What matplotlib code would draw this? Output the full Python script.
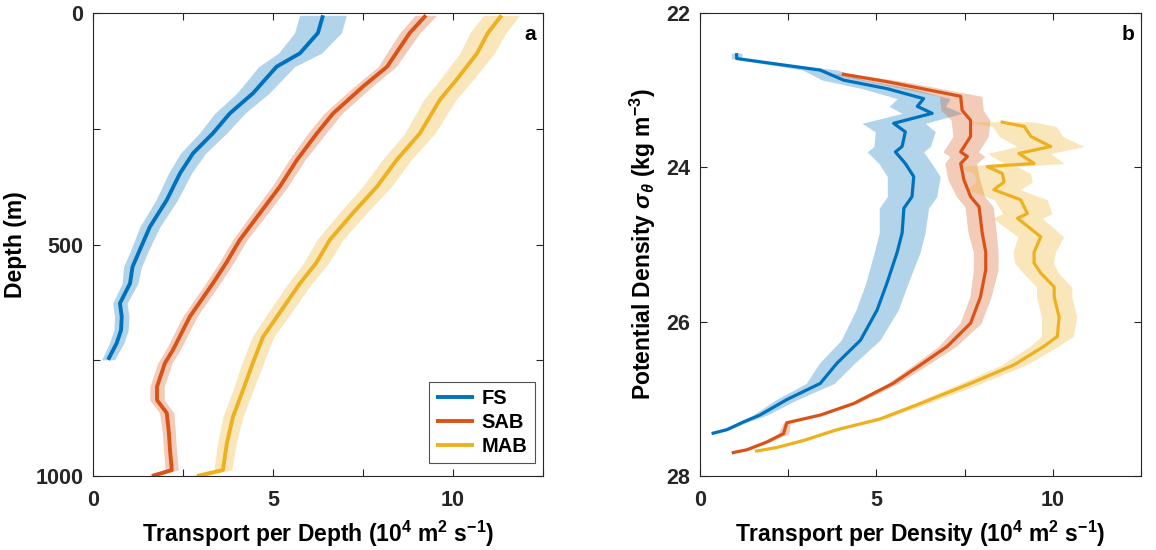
import numpy as np
import matplotlib
matplotlib.use("Agg")
import matplotlib.pyplot as plt

plt.rcParams['font.family'] = ['Liberation Sans', 'DejaVu Sans']
plt.rcParams['font.weight'] = 'bold'
plt.rcParams['mathtext.fontset'] = 'custom'
plt.rcParams['mathtext.rm'] = 'Liberation Sans:bold'
plt.rcParams['mathtext.it'] = 'Liberation Sans:bold:italic'

# MATLAB default colours
c_fs, c_sab, c_mab = '#0072BD', '#D95319', '#EDB120'

# ---- panel a: transport per depth ----
fs_depth = [5, 43, 87, 116, 173, 217, 260, 303, 346, 404, 462, 512, 548, 584, 627, 656, 685, 713, 749]
fs_tpd = [6.39, 6.25, 5.75, 5.1, 4.45, 3.8, 3.33, 2.78, 2.42, 2.05, 1.58, 1.3, 1.1, 1.03, 0.75, 0.8, 0.78, 0.66, 0.42]
fs_tpd_err = [0.65, 0.65, 0.6, 0.5, 0.45, 0.42, 0.38, 0.35, 0.32, 0.3, 0.28, 0.25, 0.25, 0.22, 0.2, 0.2, 0.2, 0.2, 0.18]

sab_depth = [5, 43, 116, 159, 217, 260, 317, 375, 432, 490, 540, 584, 656, 728, 756, 807, 836, 864, 907, 944, 987, 1000]
sab_tpd = [9.25, 8.8, 8.17, 7.5, 6.67, 6.22, 5.67, 5.19, 4.64, 4.08, 3.7, 3.33, 2.69, 2.22, 2.0, 1.78, 1.78, 2.05, 2.11, 2.14, 2.19, 1.64]
sab_tpd_err = [0.3, 0.28, 0.25, 0.25, 0.25, 0.25, 0.22, 0.22, 0.22, 0.2, 0.2, 0.2, 0.2, 0.2, 0.2, 0.2, 0.2, 0.2, 0.18, 0.18, 0.18, 0.15]

mab_depth = [5, 43, 87, 144, 187, 260, 317, 375, 432, 490, 540, 584, 656, 700, 756, 814, 872, 929, 987, 1000]
mab_tpd = [11.35, 10.97, 10.67, 10.1, 9.64, 9.08, 8.44, 7.89, 7.22, 6.58, 6.2, 5.75, 5.11, 4.72, 4.44, 4.17, 3.89, 3.72, 3.61, 2.89]
mab_tpd_err = [0.5, 0.5, 0.48, 0.46, 0.45, 0.42, 0.4, 0.4, 0.38, 0.36, 0.35, 0.33, 0.32, 0.3, 0.3, 0.28, 0.28, 0.26, 0.25, 0.2]

# ---- panel b: transport per density ----
fs_sig = [22.52, 22.59, 22.74, 22.87, 22.98, 23.11, 23.21, 23.30, 23.43, 23.54, 23.73, 23.80, 23.95, 24.12,
          24.38, 24.53, 24.85, 25.10, 25.50, 25.85, 26.24, 26.54, 26.80, 27.01, 27.21, 27.30, 27.40, 27.45]
fs_tps = [1.04, 1.04, 3.41, 4.07, 5.30, 6.34, 6.16, 6.58, 5.49, 5.82, 5.73, 5.54, 5.82, 6.06,
          6.01, 5.78, 5.73, 5.59, 5.30, 5.02, 4.55, 3.88, 3.41, 2.46, 1.70, 1.23, 0.76, 0.33]
fs_tps_err = [0.15, 0.15, 0.5, 0.6, 0.7, 0.75, 0.8, 0.85, 0.9, 0.85, 0.8, 0.8, 0.75, 0.75,
              0.7, 0.7, 0.65, 0.65, 0.6, 0.6, 0.55, 0.5, 0.4, 0.3, 0.2, 0.12, 0.08, 0.05]

sab_sig = [22.79, 22.89, 23.08, 23.26, 23.39, 23.60, 23.80, 23.86, 23.95, 24.16, 24.38, 24.51, 24.85, 25.10,
           25.33, 25.68, 26.02, 26.32, 26.56, 26.80, 27.06, 27.21, 27.31, 27.45, 27.56, 27.66, 27.70]
sab_tps = [4.02, 5.30, 7.39, 7.43, 7.67, 7.67, 7.39, 7.58, 7.39, 7.48, 7.67, 7.91, 8.00, 8.10,
           8.10, 7.95, 7.67, 7.01, 6.25, 5.47, 4.36, 3.41, 2.46, 2.37, 1.89, 1.33, 0.90]
sab_tps_err = [0.3, 0.5, 0.6, 0.6, 0.55, 0.5, 0.5, 0.5, 0.45, 0.45, 0.4, 0.4, 0.4, 0.35,
               0.35, 0.3, 0.3, 0.25, 0.2, 0.15, 0.1, 0.08, 0.1, 0.15, 0.08, 0.05, 0.05]

mab_sig = [23.41, 23.47, 23.60, 23.73, 23.82, 23.95, 23.99, 24.08, 24.19, 24.29, 24.42, 24.60, 24.66, 24.90,
           25.10, 25.24, 25.37, 25.55, 25.68, 25.94, 26.19, 26.32, 26.56, 26.80, 27.06, 27.26, 27.40, 27.54,
           27.63, 27.68]
mab_tps = [8.52, 9.19, 9.38, 9.94, 9.04, 9.47, 8.14, 8.57, 8.62, 8.33, 9.09, 9.28, 9.00, 9.66,
           9.47, 9.47, 9.66, 10.04, 10.04, 10.18, 10.13, 9.75, 8.90, 7.67, 6.25, 5.11, 3.88, 2.93,
           2.18, 1.56]
mab_tps_err = [0.9, 0.9, 0.9, 0.95, 0.9, 0.85, 0.85, 0.8, 0.8, 0.75, 0.75, 0.7, 0.7, 0.65,
               0.6, 0.55, 0.5, 0.5, 0.5, 0.5, 0.45, 0.4, 0.35, 0.3, 0.2, 0.15, 0.1, 0.08,
               0.05, 0.05]

fig = plt.figure(figsize=(11.56, 5.5), dpi=100)
ax1 = fig.add_axes([0.0804, 0.1345, 0.3893, 0.8419])
ax2 = fig.add_axes([0.6055, 0.1345, 0.3815, 0.8419])


def draw(ax, y, x, err, col, label, lw):
    x = np.array(x)
    e = np.array(err)
    ax.fill_betweenx(y, x - e, x + e, color=col, alpha=0.3, lw=0)
    ax.plot(x, y, color=col, lw=lw, label=label, solid_capstyle='butt')


draw(ax1, fs_depth, fs_tpd, fs_tpd_err, c_fs, 'FS', 2.8)
draw(ax1, sab_depth, sab_tpd, sab_tpd_err, c_sab, 'SAB', 2.8)
draw(ax1, mab_depth, mab_tpd, mab_tpd_err, c_mab, 'MAB', 2.8)

draw(ax2, fs_sig, fs_tps, fs_tps_err, c_fs, 'FS', 2.3)
draw(ax2, sab_sig, sab_tps, sab_tps_err, c_sab, 'SAB', 2.3)
draw(ax2, mab_sig, mab_tps, mab_tps_err, c_mab, 'MAB', 2.3)

lab_fs = 16.5
ax1.set_xlim(0, 12.5)
ax1.set_ylim(1000, 0)
ax1.set_xticks(np.arange(0, 12.6, 2.5))
ax1.set_xticklabels(['0', '', '5', '', '10', ''])
ax1.set_yticks([0, 250, 500, 750, 1000])
ax1.set_yticklabels(['0', '', '500', '', '1000'])
ax1.set_ylabel('Depth (m)', fontsize=lab_fs, fontweight='bold', labelpad=6)
ax1.set_xlabel(r'Transport per Depth (10$^{4}$ m$^{2}$ s$^{-1}$)', fontsize=lab_fs,
               fontweight='bold', labelpad=6)

ax2.set_xlim(0, 12.5)
ax2.set_ylim(28, 22)
ax2.set_xticks(np.arange(0, 12.6, 2.5))
ax2.set_xticklabels(['0', '', '5', '', '10', ''])
ax2.set_yticks([22, 24, 26, 28])
ax2.set_ylabel(r'Potential Density $\sigma_\theta$ (kg m$^{-3}$)', fontsize=lab_fs,
               fontweight='bold', labelpad=6)
ax2.set_xlabel(r'Transport per Density (10$^{4}$ m$^{2}$ s$^{-1}$)', fontsize=lab_fs,
               fontweight='bold', labelpad=6)

for ax, letter in ((ax1, 'a'), (ax2, 'b')):
    for s in ax.spines.values():
        s.set_color('#262626')
        s.set_linewidth(0.8)
    ax.tick_params(direction='in', top=True, right=True, length=5, width=0.8,
                   colors='#262626', labelsize=15.5)
    ax.tick_params(axis='x', pad=10)
    ax.tick_params(axis='y', pad=7)
    ax.text(0.985, 0.975, letter, transform=ax.transAxes, ha='right', va='top',
            fontsize=15, fontweight='bold')

leg = ax1.legend(loc='lower right', fontsize=14.5, frameon=True, fancybox=False,
                 handlelength=1.9, handletextpad=0.4, borderpad=0.35, labelspacing=0.25,
                 borderaxespad=0.3, bbox_to_anchor=(0.995, 0.015))
leg.get_frame().set_edgecolor('#262626')
leg.get_frame().set_linewidth(0.8)

fig.savefig('out.png', dpi=100)
